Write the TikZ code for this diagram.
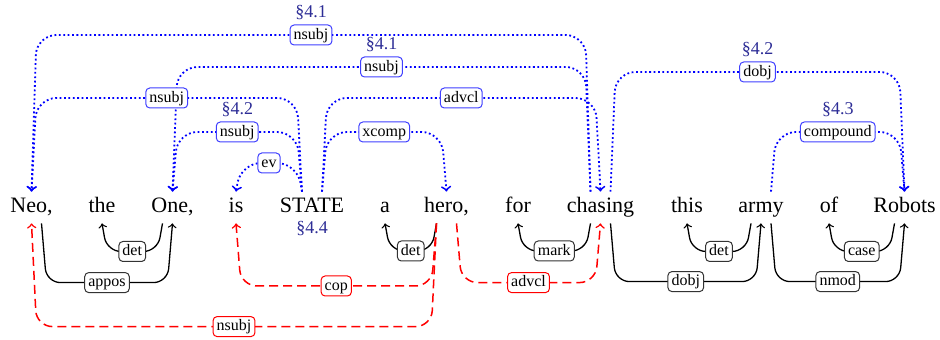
\documentclass[tikz,border=0pt]{standalone}
\usepackage{fontspec}
\setmainfont{Liberation Serif}
\usetikzlibrary{calc}
\definecolor{secblue}{RGB}{45,45,150}
\tikzset{
  word/.style={font=\fontsize{11}{13}\selectfont, anchor=base, inner xsep=0pt, inner ysep=2.5pt, text height=8pt, text depth=2.5pt},
  rel/.style={font=\fontsize{8}{9.6}\selectfont, text=black, fill=white, solid, line width=0.5pt, rounded corners=2pt, inner xsep=1.8pt, inner ysep=0.8pt, text height=6.4pt, text depth=2pt, midway},
  bluerel/.style={rel, draw=blue!75},
  blackrel/.style={rel, draw=black!80},
  redrel/.style={rel, draw=red},
  sec/.style={font=\fontsize{9}{11}\selectfont, text=secblue, inner sep=1.8pt},
  depto/.style={to path={let \p1=(\tikztostart), \p2=(\tikztotarget), \n1={5*sign(\x2-\x1)} in
      ({\x1+\n1},\y1) -- ({\x1+1.5*\n1},#1) -- ({\x2-0.5*\n1},#1) \tikztonodes -- (\p2)}},
  bluedep/.style={->, blue, line width=0.9pt, dash pattern=on 0.9pt off 1.3pt, rounded corners=10pt},
  blackdep/.style={->, black, line width=0.65pt, rounded corners=7pt},
  reddep/.style={->, red, line width=0.75pt, dash pattern=on 4.5pt off 2.5pt, rounded corners=8pt},
}

\begin{document}
\begin{tikzpicture}[x=1pt, y=1pt]
  \useasboundingbox (0,0) rectangle (470,170);

  \node[word] (neo) at (15.75,63.5) {Neo,};
  \node[word] (the) at (51,63.5) {the};
  \node[word] (one) at (86.25,63.5) {One,};
  \node[word] (is) at (118,63.5) {is};
  \node[word] (state) at (156,63.5) {STATE};
  \node[word] (a) at (192.5,63.5) {a};
  \node[word] (hero) at (223.25,63.5) {hero,};
  \node[word] (for) at (259,63.5) {for};
  \node[word] (chasing) at (300.25,63.5) {chasing};
  \node[word] (this) at (343.5,63.5) {this};
  \node[word] (army) at (380.5,63.5) {army};
  \node[word] (of) at (414.5,63.5) {of};
  \node[word] (robots) at (452.25,63.5) {Robots};
  \node[sec, anchor=base] (s44) at ([yshift=-10.5pt]state.base) {\S4.4};

  \draw[bluedep] (chasing.north) to[depto=152.5] node[bluerel, label={[sec]above:\S4.1}] {nsubj} (neo.north);
  \draw[bluedep] (chasing.north) to[depto=136.5] node[bluerel, label={[sec]above:\S4.1}] {nsubj} (one.north);
  \draw[bluedep] (state.north) to[depto=121] node[bluerel] {nsubj} (neo.north);
  \draw[bluedep] (state.north) to[depto=104] node[bluerel, label={[sec]above:\S4.2}] {nsubj} (one.north);
  \draw[bluedep] (state.north) to[depto=88.5] node[bluerel] {ev} (is.north);
  \draw[bluedep] (state.north) to[depto=104] node[bluerel] {xcomp} (hero.north);
  \draw[bluedep] (state.north) to[depto=121] node[bluerel] {advcl} (chasing.north);
  \draw[bluedep] (chasing.north) to[depto=134] node[bluerel, label={[sec]above:\S4.2}] {dobj} (robots.north);
  \draw[bluedep] (army.north) to[depto=104] node[bluerel, label={[sec]above:\S4.3}] {compound} (robots.north);

  \draw[blackdep] (one.south) to[depto=44.25] node[blackrel] {det} (the.south);
  \draw[blackdep] (neo.south) to[depto=28.7] node[blackrel] {appos} (one.south);
  \draw[blackdep] (hero.south) to[depto=44.5] node[blackrel] {det} (a.south);
  \draw[blackdep] (chasing.south) to[depto=44.5] node[blackrel] {mark} (for.south);
  \draw[blackdep] (army.south) to[depto=44.25] node[blackrel] {det} (this.south);
  \draw[blackdep] (robots.south) to[depto=44.25] node[blackrel] {case} (of.south);
  \draw[blackdep] (chasing.south) to[depto=29.2] node[blackrel] {dobj} (army.south);
  \draw[blackdep] (army.south) to[depto=29.2] node[blackrel] {nmod} (robots.south);

  \draw[reddep] (hero.south) to[depto=27] node[redrel] {cop} (is.south);
  \draw[reddep] (hero.south) to[depto=28.7] node[redrel] {advcl} (chasing.south);
  \draw[reddep] (hero.south) to[depto=6.7] node[redrel] {nsubj} (neo.south);
\end{tikzpicture}
\end{document}
